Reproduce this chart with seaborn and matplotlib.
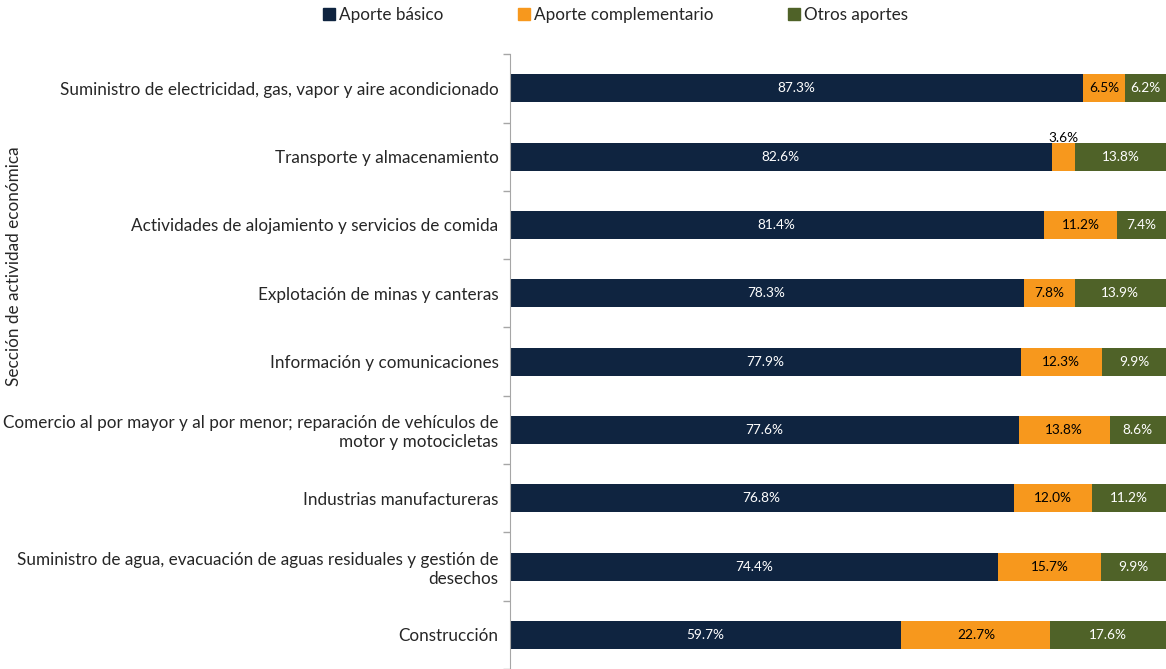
import pandas as pd
import matplotlib.pyplot as plt
import seaborn as sns
from matplotlib.patches import Patch

sectores = [
    "Suministro de electricidad, gas, vapor y aire acondicionado",
    "Transporte y almacenamiento",
    "Actividades de alojamiento y servicios de comida",
    "Explotación de minas y canteras",
    "Información y comunicaciones",
    "Comercio al por mayor y al por menor; reparación de vehículos de\nmotor y motocicletas",
    "Industrias manufactureras",
    "Suministro de agua, evacuación de aguas residuales y gestión de\ndesechos",
    "Construcción",
]
basico = [87.3, 82.6, 81.4, 78.3, 77.9, 77.6, 76.8, 74.4, 59.7]
complementario = [6.5, 3.6, 11.2, 7.8, 12.3, 13.8, 12.0, 15.7, 22.7]
otros = [6.2, 13.8, 7.4, 13.9, 9.9, 8.6, 11.2, 9.9, 17.6]

c_bas = "#0F2440"
c_com = "#F7981D"
c_otr = "#4F6228"

df = pd.DataFrame({"sector": sectores, "basico": basico,
                   "complementario": complementario, "otros": otros})
df["acum2"] = df["basico"] + df["complementario"]
df["acum3"] = df["acum2"] + df["otros"]

sns.set_style("white")
plt.rcParams["font.family"] = ["Lato", "DejaVu Sans"]

fig = plt.figure(figsize=(11.66, 6.69), dpi=100)
ax = fig.add_axes([0.437, 0.0, 0.563, 0.919])

# barras apiladas (de la suma total hacia adentro)
kw = dict(orient="h", width=0.41, saturation=1, linewidth=0, edgecolor="none", ax=ax)
sns.barplot(data=df, y="sector", x="acum3", color=c_otr, **kw)
sns.barplot(data=df, y="sector", x="acum2", color=c_com, **kw)
sns.barplot(data=df, y="sector", x="basico", color=c_bas, **kw)

for i, r in df.iterrows():
    ax.text(r["basico"] / 2, i, f"{r['basico']:.1f}%", ha="center", va="center",
            color="white", fontsize=9.8)
    if r["complementario"] < 5:
        ax.text(r["basico"] + r["complementario"] / 2, i - 0.27, f"{r['complementario']:.1f}%",
                ha="center", va="center", color="black", fontsize=9.8)
    else:
        ax.text(r["basico"] + r["complementario"] / 2, i, f"{r['complementario']:.1f}%",
                ha="center", va="center", color="black", fontsize=9.8)
    ax.text(r["acum2"] + r["otros"] / 2, i, f"{r['otros']:.1f}%", ha="center", va="center",
            color="white", fontsize=9.8)

ax.set_xlim(0, 100)
ax.set_ylim(8.5, -0.5)
ax.set_xticks([])
ax.set_xlabel("")
ax.set_ylabel("Sección de actividad económica", fontsize=12.3)
ax.yaxis.set_label_coords(-0.743, 0.655)
ax.tick_params(axis="y", length=0, labelsize=12.3, pad=8)
ax.set_yticks([i - 0.5 for i in range(10)], minor=True)
ax.tick_params(axis="y", which="minor", left=True, length=5, color="#A6A6A6",
               direction="out", width=1)
for s in ["top", "right", "bottom"]:
    ax.spines[s].set_visible(False)
ax.spines["left"].set_color("#A6A6A6")

handles = [Patch(color=c_bas, label="Aporte básico"),
           Patch(color=c_com, label="Aporte complementario"),
           Patch(color=c_otr, label="Otros aportes")]
fig.legend(handles=handles, loc="upper center", bbox_to_anchor=(0.528, 1.012), ncol=3,
           frameon=False, fontsize=12.3, handlelength=0.7, handleheight=0.7,
           handletextpad=0.2, columnspacing=4.4)

fig.savefig("out.png", dpi=100)
